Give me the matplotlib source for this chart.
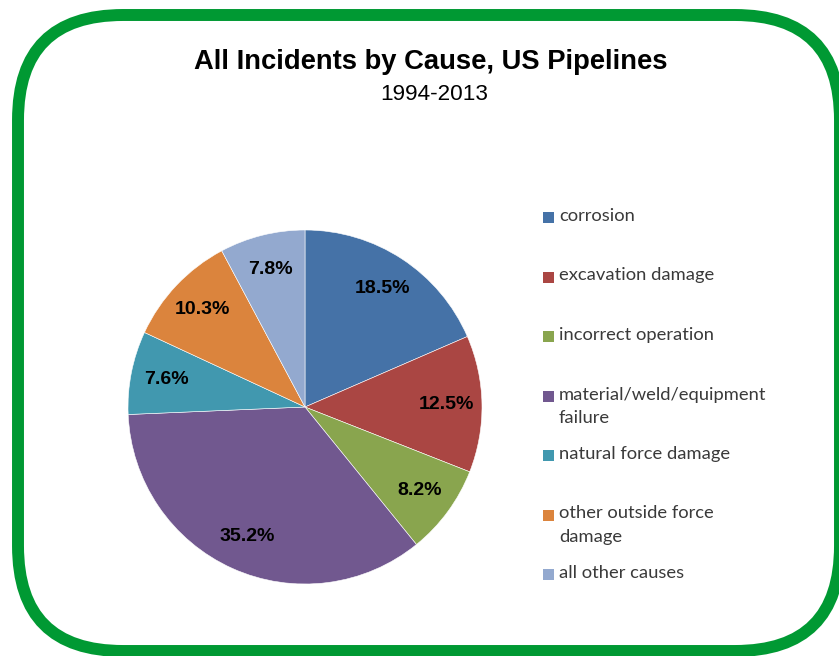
import matplotlib
matplotlib.use("Agg")
import matplotlib.pyplot as plt
from matplotlib.patches import FancyBboxPatch, Rectangle

# Chart data
causes = ['corrosion', 'excavation damage', 'incorrect operation',
          'material/weld/equipment\nfailure', 'natural force damage',
          'other outside force\ndamage', 'all other causes']
shares = [18.5, 12.5, 8.2, 35.2, 7.6, 10.3, 7.8]
share_labels = ['18.5%', '12.5%', '8.2%', '35.2%', '7.6%', '10.3%', '7.8%']
colors = ['#4572A7', '#AA4643', '#89A54E', '#71588F', '#4198AF', '#DB843D', '#93A9CF']

W, H = 839, 656
fig = plt.figure(figsize=(W / 100, H / 100), dpi=100)
fig.patch.set_facecolor('white')

# Rounded green frame (in inches)
frame = FancyBboxPatch((0.18, 0.05), 8.22, 6.36,
                       boxstyle="round,pad=0,rounding_size=1.05",
                       transform=fig.dpi_scale_trans,
                       facecolor='none', edgecolor='#009933', linewidth=8.6)
fig.add_artist(frame)

# Titles
fig.text(431 / W, 1 - 62 / H, 'All Incidents by Cause, US Pipelines',
         ha='center', va='center', fontsize=19.7, fontweight='bold',
         family='Liberation Sans', color='black')
fig.text(434 / W, 1 - 95 / H, '1994-2013',
         ha='center', va='center', fontsize=16.2,
         family='Liberation Sans', color='black')

# Pie
cx, cy, r = 305, 407, 177
ax = fig.add_axes([(cx - r) / W, (H - cy - r) / H, 2 * r / W, 2 * r / H])
label_iter = iter(share_labels)
wedges, texts, autotexts = ax.pie(shares, colors=colors, startangle=90, counterclock=False,
                                  autopct=lambda p: next(label_iter), pctdistance=0.8,
                                  wedgeprops=dict(edgecolor='white', linewidth=0.4))
for t in autotexts:
    t.set_fontsize(14)
    t.set_fontweight('bold')
    t.set_family('Liberation Sans')
    t.set_color('black')
ax.set_xlim(-1, 1)
ax.set_ylim(-1, 1)
ax.axis('off')

# Legend
leg_x, leg_y0, leg_step = 543, 217, 59.5
for i, (name, col) in enumerate(zip(causes, colors)):
    y = leg_y0 + i * leg_step
    fig.add_artist(Rectangle((leg_x / W, 1 - (y + 6) / H), 11 / W, 11 / H,
                             transform=fig.transFigure, facecolor=col, edgecolor='none'))
    fig.text((leg_x + 16) / W, 1 - (y - 9) / H, name, ha='left', va='top',
             fontsize=13.2, family='Lato', color='#3a3a3a', linespacing=1.6)

fig.savefig('out.png', dpi=100)
